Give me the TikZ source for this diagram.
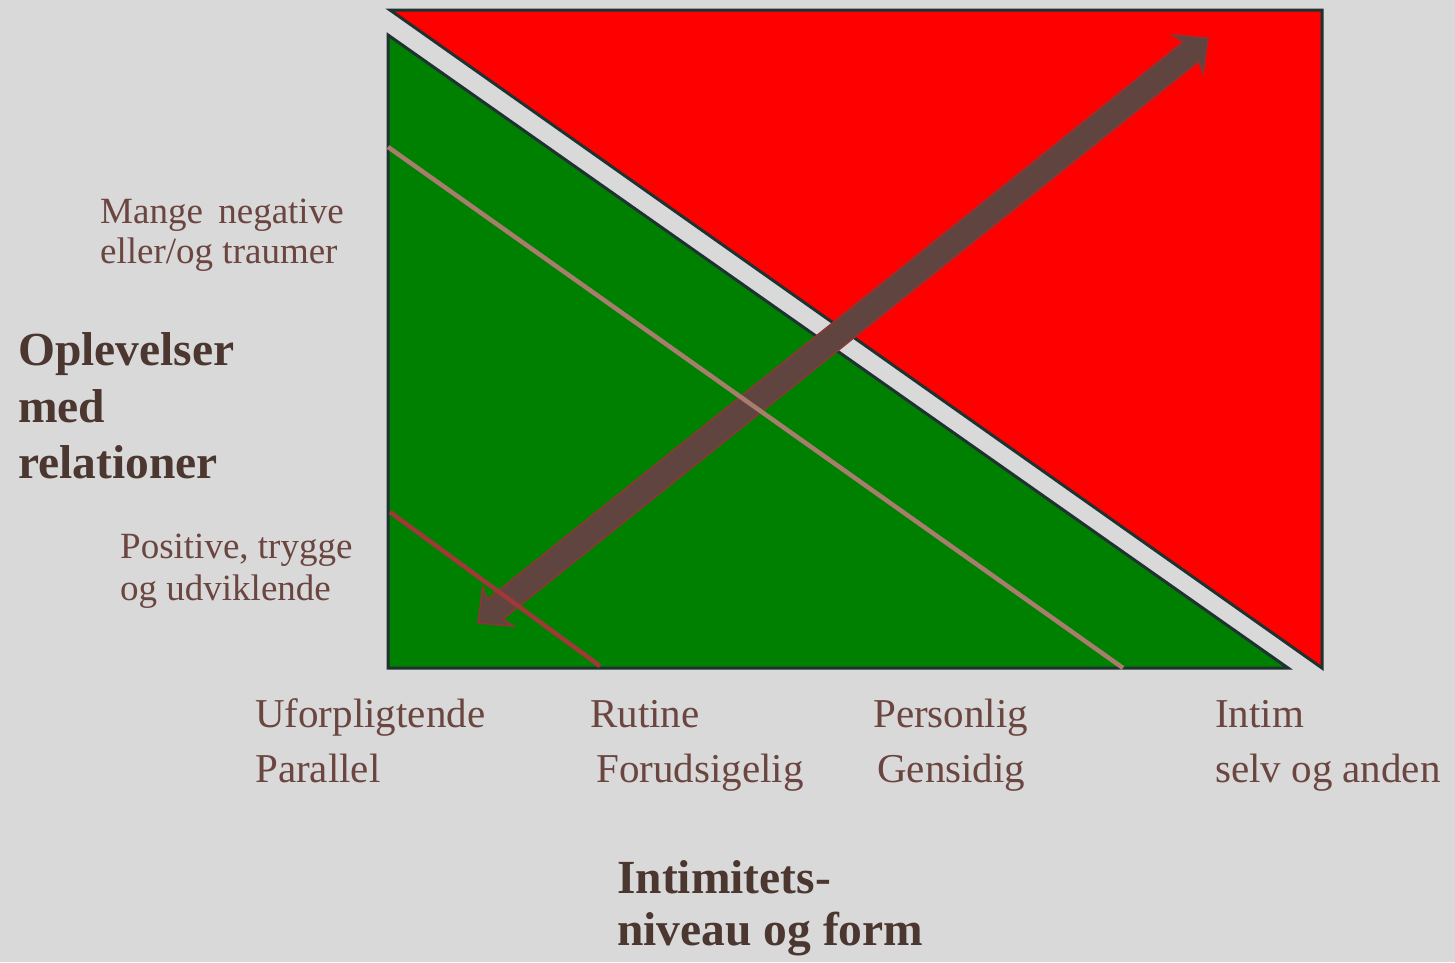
\documentclass[tikz,border=0pt]{standalone}
\usepackage{fontspec}
\setmainfont{Liberation Serif}
\definecolor{bg}{HTML}{D9D9D9}
\definecolor{zonered}{HTML}{FF0000}
\definecolor{zonegreen}{HTML}{008000}
\definecolor{edge}{HTML}{1E3230}
\definecolor{arrowfill}{HTML}{604440}
\definecolor{arrowedge}{HTML}{8C3636}
\definecolor{tanline}{HTML}{A87D6E}
\definecolor{redline}{HTML}{A03838}
\definecolor{labeltext}{HTML}{6B4540}
\definecolor{titletext}{HTML}{4B3730}
\tikzset{
  zone/.style={draw=edge, line width=3pt, line join=miter},
  guide/.style={line width=4.5pt},
  lbl/.style={anchor=base west, inner sep=0pt, text=labeltext, font=\fontsize{37}{42}\selectfont},
  axis/.style={anchor=base west, inner sep=0pt, text=labeltext, font=\fontsize{41}{47}\selectfont},
  title/.style={anchor=base west, inner sep=0pt, text=titletext, font=\bfseries\fontsize{47.5}{54}\selectfont},
}
\begin{document}
\begin{tikzpicture}[x=1pt, y=-1pt]
  \fill[bg] (0,0) rectangle (1455,962);
  \useasboundingbox (0,0) rectangle (1455,962);

  % the two zones
  \filldraw[zone, fill=zonered] (390,10) -- (1322,10) -- (1322,668) -- cycle;
  \filldraw[zone, fill=zonegreen] (388,35) -- (388,668) -- (1288,668) -- cycle;

  % double-headed development arrow
  \coordinate (lowtip) at (478,623);
  \coordinate (hightip) at (1208,38);
  \filldraw[fill=arrowfill, draw=arrowedge, line width=1.5pt, line join=miter]
    (lowtip) -- (513.9,626.3) -- (503.0,619.0) -- (1198.6,61.55) -- (1203.3,73.8)
    -- (hightip) -- (1172.1,34.8) -- (1183.0,42.05) -- (487.35,599.5) -- (482.7,587.2) -- cycle;

  % threshold lines
  \coordinate (tanA) at (388,147);
  \coordinate (tanB) at (1123,668);
  \coordinate (redA) at (390,512);
  \coordinate (redB) at (600,666);
  \draw[guide, tanline] (tanA) -- (tanB);
  \draw[guide, redline] (redA) -- (redB);

  % vertical axis labels
  \node[lbl] (neg1) at (100,223) {Mange\, negative};
  \node[lbl] (neg2) at (100,263) {eller/og traumer};
  \node[lbl] (pos1) at (120,558) {Positive, trygge};
  \node[lbl] (pos2) at (120,600) {og udviklende};
  \node[title] (yt1) at (18,365) {Oplevelser};
  \node[title] (yt2) at (18,422) {med};
  \node[title] (yt3) at (18,478) {relationer};

  % horizontal axis labels
  \node[axis] (h1a) at (255,727) {Uforpligtende};
  \node[axis] (h1b) at (255,782) {Parallel};
  \node[axis] (h2a) at (590,727) {Rutine};
  \node[axis] (h2b) at (596,782) {Forudsigelig};
  \node[axis] (h3a) at (873,727) {Personlig};
  \node[axis] (h3b) at (877,782) {Gensidig};
  \node[axis] (h4a) at (1215,727) {Intim};
  \node[axis] (h4b) at (1215,782) {selv og anden};
  \node[title] (xt1) at (617,893) {Intimitets-};
  \node[title] (xt2) at (617,945) {niveau og form};
\end{tikzpicture}
\end{document}
